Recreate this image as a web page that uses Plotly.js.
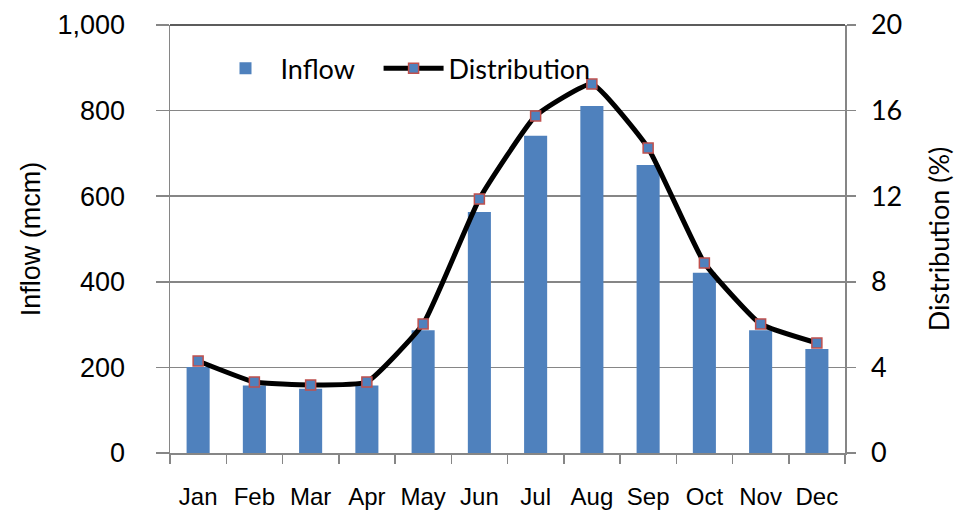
<!DOCTYPE html>
<html><head><meta charset="utf-8">
<script src="https://cdn.plot.ly/plotly-3.0.1.min.js"></script>
<style>body{margin:0;background:#fff}#c{width:957px;height:513px}</style>
</head><body><div id="c"></div>
<script>
const months = ["Jan","Feb","Mar","Apr","May","Jun","Jul","Aug","Sep","Oct","Nov","Dec"];
const inflow = [201, 158, 150, 158, 287, 563, 741, 811, 673, 421, 287, 243];
const distribution = [4.3, 3.32, 3.18, 3.32, 6.03, 11.87, 15.75, 17.24, 14.25, 8.88, 6.03, 5.14];
const leftTicks = [0, 200, 400, 600, 800, 1000];
const rightTicks = [0, 4, 8, 12, 16, 20];

const legendFont = {family:"Lato, 'Open Sans', sans-serif", size:27, color:"#000"};
const traces = [
  {type:"bar", name:"Inflow", x:months, y:inflow, marker:{color:"#4F81BD"}, yaxis:"y", legend:"legend"},
  {type:"scatter", mode:"lines+markers", name:"Distribution", x:months, y:distribution, yaxis:"y2", legend:"legend2",
   line:{color:"#000000", width:5, shape:"spline", smoothing:0.4},
   marker:{symbol:"square", size:10, color:"#4F81BD", line:{color:"#C0504D", width:1.5}}}
];
const layout = {
  width:957, height:513,
  margin:{l:170, r:112, t:25, b:60},
  paper_bgcolor:"#fff", plot_bgcolor:"#fff",
  bargap:0.59,
  showlegend:true,
  legend:{orientation:"h", x:0.06, y:0.955, xanchor:"left", yanchor:"top", itemwidth:60,
    font:legendFont, bgcolor:"rgba(0,0,0,0)"},
  legend2:{orientation:"h", x:0.309, y:0.955, xanchor:"left", yanchor:"top", itemwidth:60,
    font:legendFont, bgcolor:"rgba(0,0,0,0)"},
  shapes:[{type:"line", xref:"paper", yref:"paper", x0:0, x1:1, y0:1, y1:1, line:{color:"#262626", width:1.5}}],
  xaxis:{type:"category", range:[-0.5, 11.5], showline:true, linecolor:"#868686", linewidth:1.5,
    ticks:"outside", tickson:"boundaries", ticklen:9, tickcolor:"#868686", tickwidth:1.5,
    tickfont:{family:"'Liberation Sans', Arial, sans-serif", size:24, color:"#000"},
    ticklabelstandoff:22, showgrid:false, zeroline:false, fixedrange:true},
  yaxis:{range:[0,1000], tickvals:leftTicks, ticktext:leftTicks.map(v=>v.toLocaleString("en-US")),
    showline:true, linecolor:"#868686", linewidth:1.5,
    ticks:"outside", ticklen:13, tickcolor:"#868686", tickwidth:1.5,
    showgrid:true, gridcolor:"#868686", gridwidth:1.5, zeroline:false,
    tickfont:{family:"'Liberation Sans', Arial, sans-serif", size:27, color:"#000"},
    ticklabelstandoff:25,
    title:{text:"Inflow (mcm)", font:{family:"'Liberation Sans', Arial, sans-serif", size:27, color:"#000"}, standoff:9}},
  yaxis2:{range:[0,20], tickvals:rightTicks, overlaying:"y", side:"right",
    showline:true, linecolor:"#868686", linewidth:1.5,
    ticks:"outside", ticklen:9, tickcolor:"#868686", tickwidth:1.5,
    showgrid:false, zeroline:false,
    tickfont:{family:"Lato, 'Open Sans', sans-serif", size:27, color:"#000"},
    ticklabelstandoff:10,
    title:{text:"Distribution (%)", font:{family:"Lato, 'Open Sans', sans-serif", size:27, color:"#000"}, standoff:29}}
};
Plotly.newPlot("c", traces, layout, {displayModeBar:false, staticPlot:true});
</script></body></html>
